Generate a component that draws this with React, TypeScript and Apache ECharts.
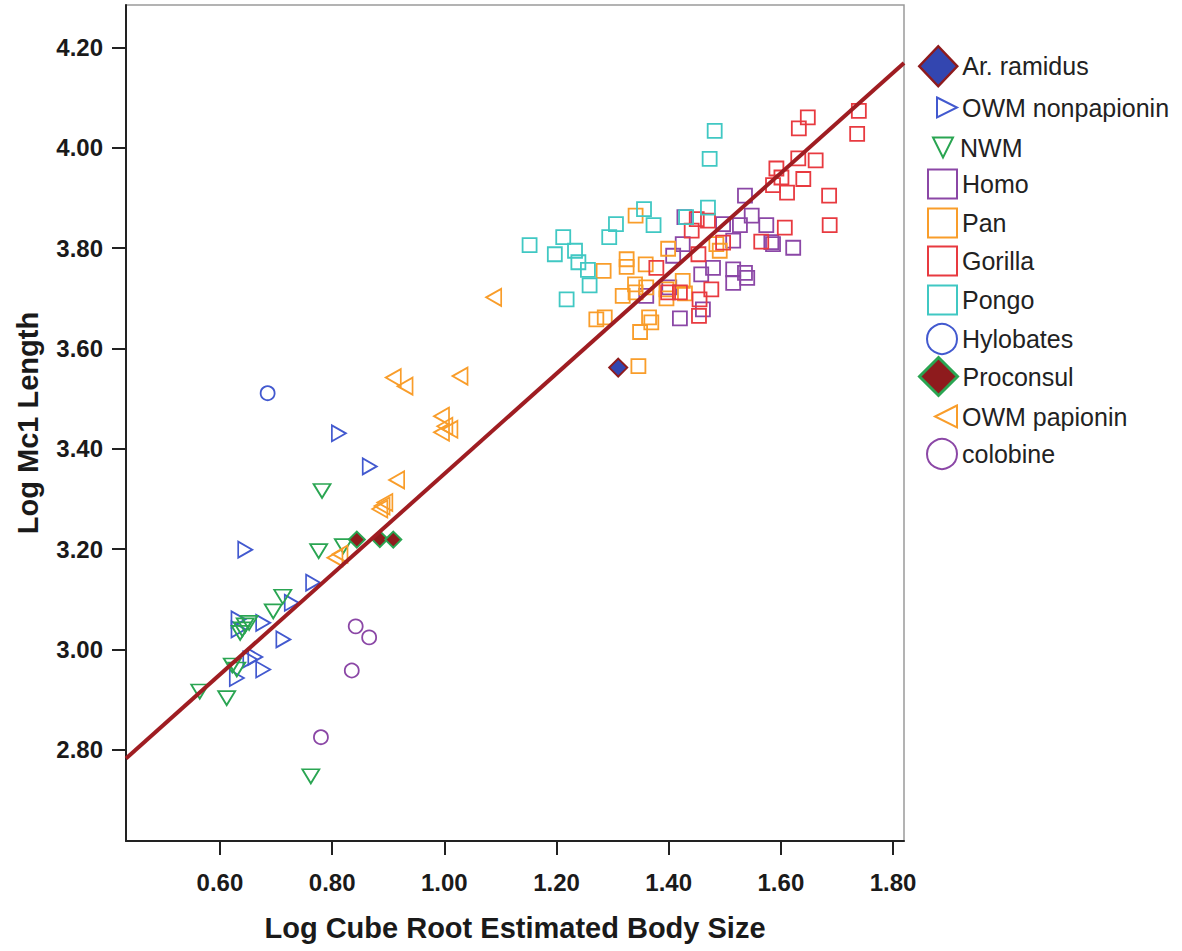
import React, { useEffect, useRef } from "react";
import * as echarts from "echarts";

// ---- axis ranges & ticks ----
const X_MIN = 0.4325;
const X_MAX = 1.8195;
const Y_MIN = 2.618;
const Y_MAX = 4.285;
const xTicks = [0.6, 0.8, 1.0, 1.2, 1.4, 1.6, 1.8];
const yTicks = [2.8, 3.0, 3.2, 3.4, 3.6, 3.8, 4.0, 4.2];

// ---- regression line ----
const fitIntercept = 2.35;
const fitSlope = 1.0;

// ---- data ----
const arRamidus = [[1.31, 3.562]];

const owmNonpapionin = [
  [0.645, 3.199], [0.812, 3.431], [0.867, 3.365], [0.766, 3.133], [0.728, 3.093],
  [0.677, 3.053], [0.633, 3.06], [0.633, 3.04], [0.713, 3.02], [0.654, 2.98],
  [0.677, 2.96], [0.63, 2.943], [0.663, 2.985],
];

const nwm = [
  [0.564, 2.916], [0.612, 2.903], [0.622, 2.968], [0.63, 2.96], [0.636, 3.033],
  [0.645, 3.048], [0.652, 3.053], [0.695, 3.076], [0.712, 3.105], [0.776, 3.196],
  [0.782, 3.316], [0.82, 3.206], [0.762, 2.747], [0.64, 3.04],
];

const homo = [
  [1.536, 3.905], [1.428, 3.862], [1.497, 3.848], [1.527, 3.846], [1.548, 3.865],
  [1.574, 3.846], [1.515, 3.815], [1.586, 3.808], [1.622, 3.801], [1.425, 3.808],
  [1.479, 3.761], [1.515, 3.758], [1.536, 3.751], [1.54, 3.741], [1.458, 3.748],
  [1.515, 3.731], [1.36, 3.705], [1.401, 3.722], [1.42, 3.66], [1.461, 3.678],
  [1.408, 3.785], [1.583, 3.812],
];

const pan = [
  [1.341, 3.865], [1.399, 3.799], [1.284, 3.755], [1.325, 3.778], [1.325, 3.763],
  [1.359, 3.768], [1.425, 3.735], [1.34, 3.728], [1.36, 3.722], [1.318, 3.705],
  [1.341, 3.712], [1.396, 3.7], [1.429, 3.71], [1.271, 3.658], [1.286, 3.662],
  [1.365, 3.662], [1.369, 3.652], [1.349, 3.633], [1.346, 3.565], [1.491, 3.795],
  [1.396, 3.718], [1.485, 3.808],
];

const gorilla = [
  [1.739, 4.074], [1.736, 4.028], [1.648, 4.061], [1.632, 4.039], [1.662, 3.975],
  [1.631, 3.979], [1.592, 3.959], [1.601, 3.941], [1.64, 3.938], [1.586, 3.926],
  [1.611, 3.911], [1.686, 3.905], [1.687, 3.846], [1.607, 3.841], [1.565, 3.813],
  [1.45, 3.858], [1.47, 3.855], [1.441, 3.835], [1.497, 3.811], [1.453, 3.788],
  [1.378, 3.761], [1.399, 3.712], [1.42, 3.712], [1.476, 3.718], [1.455, 3.698],
  [1.454, 3.665],
];

const pongo = [
  [1.482, 4.034], [1.473, 3.978], [1.47, 3.881], [1.431, 3.862], [1.356, 3.878],
  [1.373, 3.846], [1.306, 3.848], [1.294, 3.822], [1.152, 3.806], [1.212, 3.822],
  [1.197, 3.788], [1.233, 3.795], [1.239, 3.772], [1.256, 3.757], [1.259, 3.726],
  [1.218, 3.698],
];

const hylobates = [[0.685, 3.511]];

const proconsul = [[0.844, 3.219], [0.885, 3.22], [0.909, 3.219]];

const owmPapionin = [
  [1.088, 3.702], [0.909, 3.542], [0.93, 3.525], [1.028, 3.545], [0.995, 3.465],
  [1.001, 3.445], [1.01, 3.439], [0.995, 3.433], [0.915, 3.338], [0.894, 3.293],
  [0.885, 3.28], [0.889, 3.286], [0.805, 3.183], [0.814, 3.19],
];

const colobine = [[0.842, 3.046], [0.866, 3.024], [0.835, 2.958], [0.78, 2.825]];

// ---- styles ----
const BLUE = "#4259cf";
const GREEN = "#2aa552";
const PURPLE = "#8b47a6";
const ORANGE = "#f99d2a";
const RED = "#e83a40";
const CYAN = "#40c8c3";
const DARKRED = "#8e1b1d";
const FILLBLUE = "#3346b0";
const LINE_RED = "#9f1d22";
const HOLLOW = "rgba(0,0,0,0)";
const FONT = "'Liberation Sans', Arial, Helvetica, sans-serif";

const TRI_RIGHT = "path://M0,0L10,5L0,10Z";
const TRI_DOWN = "path://M0,0L10,0L5,10Z";
const TRI_LEFT = "path://M10,0L0,5L10,10Z";

type Group = {
  name: string;
  data: number[][];
  symbol: string;
  size: number | number[];
  fill: string;
  border: string;
  bw: number;
  legendW: number;
  legendH: number;
  legendBw: number;
  legendY: number;
  z: number;
};

const groups: Group[] = [
  { name: "Ar. ramidus", data: arRamidus, symbol: "diamond", size: 18, fill: FILLBLUE, border: DARKRED, bw: 2, legendW: 38, legendH: 40, legendBw: 2.5, legendY: 65, z: 5 },
  { name: "OWM nonpapionin", data: owmNonpapionin, symbol: TRI_RIGHT, size: [14, 16], fill: HOLLOW, border: BLUE, bw: 1.8, legendW: 20, legendH: 22, legendBw: 2, legendY: 106, z: 3 },
  { name: "NWM", data: nwm, symbol: TRI_DOWN, size: [17, 14], fill: HOLLOW, border: GREEN, bw: 1.8, legendW: 24, legendH: 20, legendBw: 2, legendY: 145, z: 3 },
  { name: "Homo", data: homo, symbol: "rect", size: 14, fill: HOLLOW, border: PURPLE, bw: 1.8, legendW: 29, legendH: 29, legendBw: 2, legendY: 183, z: 3 },
  { name: "Pan", data: pan, symbol: "rect", size: 14, fill: HOLLOW, border: ORANGE, bw: 1.8, legendW: 29, legendH: 29, legendBw: 2, legendY: 222, z: 3 },
  { name: "Gorilla", data: gorilla, symbol: "rect", size: 14, fill: HOLLOW, border: RED, bw: 1.8, legendW: 29, legendH: 29, legendBw: 2, legendY: 260, z: 3 },
  { name: "Pongo", data: pongo, symbol: "rect", size: 14, fill: HOLLOW, border: CYAN, bw: 1.8, legendW: 29, legendH: 29, legendBw: 2, legendY: 299, z: 3 },
  { name: "Hylobates", data: hylobates, symbol: "circle", size: 14, fill: HOLLOW, border: BLUE, bw: 1.8, legendW: 30, legendH: 30, legendBw: 2, legendY: 338, z: 3 },
  { name: "Proconsul", data: proconsul, symbol: "diamond", size: 16, fill: DARKRED, border: GREEN, bw: 2, legendW: 38, legendH: 38, legendBw: 3, legendY: 375, z: 5 },
  { name: "OWM papionin", data: owmPapionin, symbol: TRI_LEFT, size: [15, 17], fill: HOLLOW, border: ORANGE, bw: 1.8, legendW: 22, legendH: 22, legendBw: 2, legendY: 415, z: 3 },
  { name: "colobine", data: colobine, symbol: "circle", size: 14, fill: HOLLOW, border: PURPLE, bw: 1.8, legendW: 30, legendH: 30, legendBw: 2, legendY: 453, z: 3 },
];

const LEGEND_TEXT_X = 961;

function buildOption() {
  const fitLine = [
    [X_MIN, fitIntercept + fitSlope * X_MIN],
    [X_MAX, fitIntercept + fitSlope * X_MAX],
  ];

  const scatterSeries = groups.map((g) => ({
    name: g.name,
    type: "scatter",
    data: g.data,
    symbol: g.symbol,
    symbolSize: g.size,
    z: g.z,
    itemStyle: { color: g.fill, borderColor: g.border, borderWidth: g.bw, opacity: 1 },
    emphasis: { disabled: true },
  }));

  const legends = groups.map((g) => ({
    data: [{ name: g.name, icon: g.symbol }],
    orient: "vertical",
    left: LEGEND_TEXT_X - 5 - g.legendW,
    top: g.legendY - g.legendH / 2,
    itemWidth: g.legendW,
    itemHeight: g.legendH,
    padding: 0,
    itemGap: 0,
    selectedMode: false,
    itemStyle: { color: g.fill, borderColor: g.border, borderWidth: g.legendBw },
    textStyle: { fontSize: 25, color: "#222", fontFamily: FONT },
  }));

  return {
    animation: false,
    backgroundColor: "#ffffff",
    grid: {
      left: 126,
      top: 5,
      right: 278,
      bottom: 110,
      show: true,
      borderColor: "#9a9a9a",
      borderWidth: 1.5,
      backgroundColor: "transparent",
    },
    legend: legends,
    xAxis: {
      type: "value",
      min: X_MIN,
      max: X_MAX,
      name: "Log Cube Root Estimated Body Size",
      nameLocation: "middle",
      nameGap: 72,
      nameTextStyle: { fontSize: 29, fontWeight: "bold", color: "#1a1a1a", fontFamily: FONT },
      axisLine: { show: true, onZero: false, lineStyle: { color: "#222", width: 2 } },
      axisTick: { show: true, length: 14, customValues: xTicks, lineStyle: { color: "#222", width: 2 } },
      axisLabel: {
        customValues: xTicks,
        margin: 29,
        fontSize: 24,
        fontWeight: "bold",
        color: "#1a1a1a",
        fontFamily: FONT,
        formatter: (v: number) => v.toFixed(2),
      },
      splitLine: { show: false },
    },
    yAxis: {
      type: "value",
      min: Y_MIN,
      max: Y_MAX,
      name: "Log Mc1 Length",
      nameLocation: "middle",
      nameGap: 84,
      nameTextStyle: { fontSize: 29, fontWeight: "bold", color: "#1a1a1a", fontFamily: FONT },
      axisLine: { show: true, onZero: false, lineStyle: { color: "#222", width: 2 } },
      axisTick: { show: true, length: 14, customValues: yTicks, lineStyle: { color: "#222", width: 2 } },
      axisLabel: {
        customValues: yTicks,
        margin: 23,
        fontSize: 24,
        fontWeight: "bold",
        color: "#1a1a1a",
        fontFamily: FONT,
        formatter: (v: number) => v.toFixed(2),
      },
      splitLine: { show: false },
    },
    series: [
      ...scatterSeries,
      {
        name: "Fit",
        type: "line",
        data: fitLine,
        symbol: "none",
        z: 10,
        lineStyle: { color: LINE_RED, width: 4 },
        emphasis: { disabled: true },
        silent: true,
      },
    ],
  };
}

export default function App() {
  const ref = useRef<HTMLDivElement>(null);
  useEffect(() => {
    if (!ref.current) return;
    const chart = echarts.init(ref.current, null, { renderer: "svg" });
    chart.setOption(buildOption() as any);
    return () => chart.dispose();
  }, []);
  return (
    <div
      ref={ref}
      style={{ position: "fixed", left: 0, top: 0, width: 1182, height: 951, background: "#fff" }}
    />
  );
}
